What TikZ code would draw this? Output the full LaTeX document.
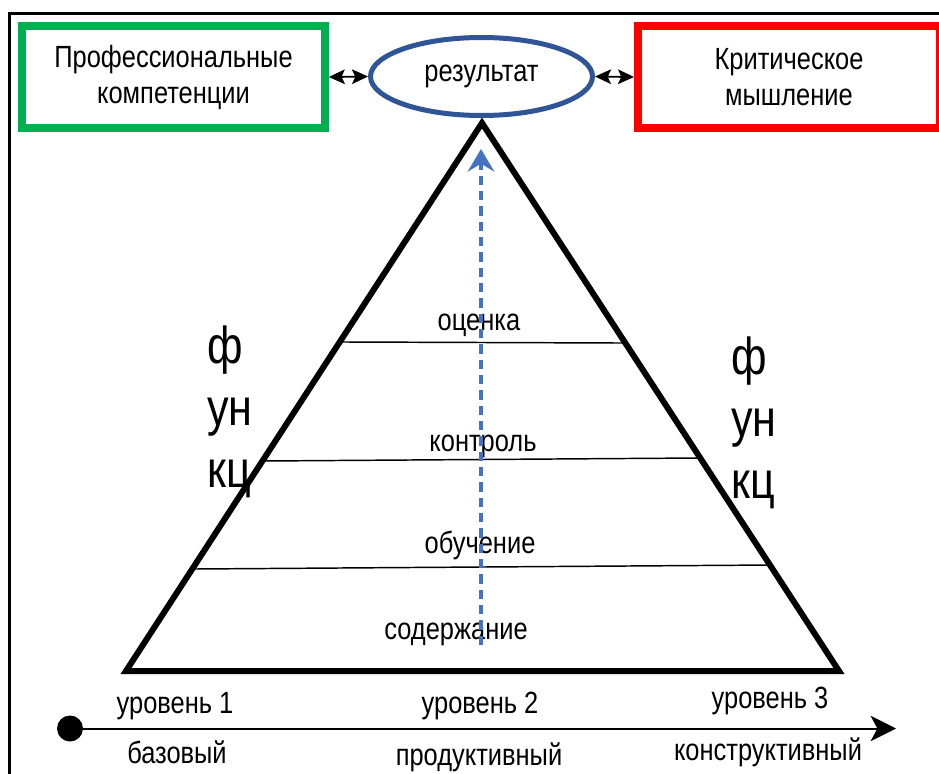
\documentclass[tikz,border=0pt]{standalone}
\usepackage{fontspec}
\setmainfont{Liberation Sans}[FakeStretch=0.83]
\usetikzlibrary{shapes.geometric,arrows.meta,calc}
\definecolor{boxgreen}{HTML}{00B050}
\definecolor{boxred}{HTML}{FF0000}
\definecolor{ellblue}{HTML}{2F5597}
\definecolor{dashblue}{HTML}{4472C4}
\begin{document}
\begin{tikzpicture}[x=0.75pt,y=-0.75pt,
  txt/.style={font=\fontsize{23}{27.6}\selectfont, inner sep=0pt},
  big/.style={font=\fontsize{39}{46.5}\selectfont, inner sep=0pt, align=left},
  colbox/.style={draw, line width=6pt, minimum width=227pt, minimum height=76.5pt, inner sep=0pt, align=center, font=\fontsize{23}{27}\selectfont},
  dbl/.style={{Stealth[length=12pt,width=11pt,inset=2.5pt]}-{Stealth[length=12pt,width=11pt,inset=2.5pt]}, line width=1.4pt},
  layer/.style={line width=1.1pt},
]
\useasboundingbox (0,0) rectangle (939,774);
\begin{scope}
  \clip (0,0) rectangle (939,774);
  \draw[line width=2.2pt] (9.5,800) -- (9.5,13.5) -- (960,13.5);
  \node[colbox, draw=boxgreen] (prof) at (173.5,77) {Профессиональные\\компетенции};
  \node[colbox, draw=boxred, minimum width=226.5pt] (crit) at (789,77) {Критическое\\мышление};
\end{scope}
\node[ellipse, draw=ellblue, line width=3.75pt, minimum width=166.5pt, minimum height=58.5pt, inner sep=0pt, txt] (res) at (481.5,76.5) {результат};
\draw[dbl] (prof.east) -- (res.west);
\draw[dbl] (res.east) -- (crit.west);
% pyramid
\coordinate (apex) at (482,123);
\coordinate (bl) at (126,671);
\coordinate (br) at (839,671);
\draw[line width=4.5pt, line join=miter] (apex) -- (br) -- (bl) -- cycle;
\coordinate (l1a) at ($(bl)!0.6004!(apex)$);
\coordinate (l1b) at ($(br)!0.5985!(apex)$);
\coordinate (l2a) at ($(bl)!0.3832!(apex)$);
\coordinate (l2b) at ($(br)!0.3887!(apex)$);
\coordinate (l3a) at ($(bl)!0.1861!(apex)$);
\coordinate (l3b) at ($(br)!0.1934!(apex)$);
\draw[layer] (l1a) -- (l1b);
\draw[layer] (l2a) -- (l2b);
\draw[layer] (l3a) -- (l3b);
\node[txt, anchor=base] (ocenka) at (479,330) {оценка};
\node[txt, anchor=base] (kontrol) at (483,451) {контроль};
\node[txt, anchor=base] (obuch) at (480,553) {обучение};
\node[txt, anchor=base] (soder) at (456,639) {содержание};
\coordinate (ds) at (481,645);
\coordinate (de) at (481,149);
\draw[dashblue, line width=2.3pt, dash pattern=on 7pt off 4.5pt, -{Stealth[length=17pt,width=20pt,inset=6pt]}] (ds) -- (de);
% side labels
\node[big, anchor=base west] (funcL) at (207,487) {ф\\ун\\кц};
\node[big, anchor=base west] (funcR) at (731,498) {ф\\ун\\кц};
% axis
\node[circle, fill, minimum size=19.5pt, inner sep=0pt] (dot) at (70,728.5) {};
\coordinate (tip) at (896,728.5);
\draw[line width=1.5pt, -{Stealth[length=19pt,width=19pt,inset=5pt]}] (dot.center) -- (tip);
\node[txt, anchor=base] (lev1) at (175,713) {уровень 1};
\node[txt, anchor=base] (lev2) at (480,713) {уровень 2};
\node[txt, anchor=base] (lev3) at (770,708) {уровень 3};
\node[txt, anchor=base] (bas) at (177,763) {базовый};
\node[txt, anchor=base] (prod) at (479,765) {продуктивный};
\node[txt, anchor=base] (konstr) at (768,760) {конструктивный};
\end{tikzpicture}
\end{document}
